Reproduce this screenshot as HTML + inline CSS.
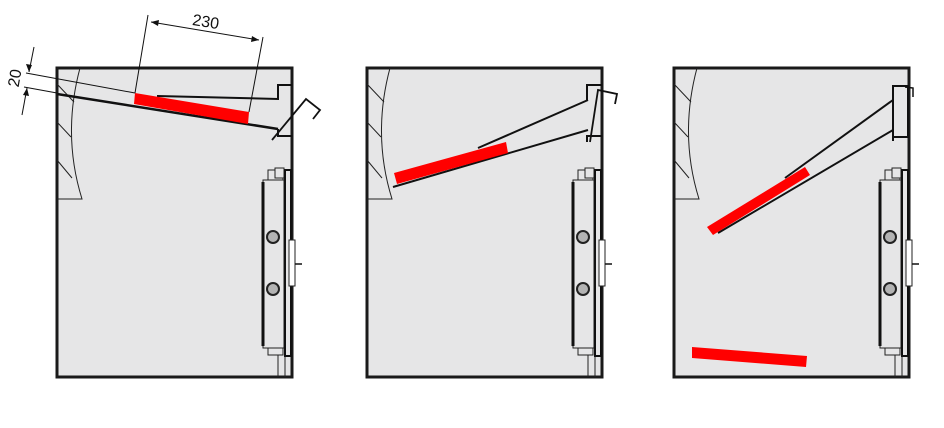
<!DOCTYPE html>
<html><head><meta charset="utf-8"><style>html,body{margin:0;padding:0;background:#fff}svg{display:block}</style></head>
<body>
<svg width="944" height="428" viewBox="0 0 944 428" xmlns="http://www.w3.org/2000/svg" font-family="Liberation Sans, sans-serif">
<defs>
<g id="box">
  <rect x="57" y="68" width="235" height="309" fill="#e6e6e7" stroke="#1a1a1a" stroke-width="3"/>
  <path d="M80,68 Q62,135 82,199 L57,199" fill="none" stroke="#222" stroke-width="1"/>
  <path d="M57,84 L74,102 M57,122 L71,137 M57,160 L72,178" stroke="#222" stroke-width="1"/>
  <!-- device -->
  <line x1="278" y1="352" x2="278" y2="377" stroke="#222" stroke-width="1"/>
  <line x1="285" y1="352" x2="285" y2="377" stroke="#222" stroke-width="1"/>
  <rect x="268" y="170" width="15" height="11" fill="#e6e6e7" stroke="#222" stroke-width="1"/>
  <rect x="275" y="168" width="9" height="10" fill="#e6e6e7" stroke="#222" stroke-width="1"/>
  <rect x="268" y="347" width="15" height="8" fill="#e6e6e7" stroke="#222" stroke-width="1"/>
  <rect x="263" y="180" width="21" height="168" fill="#e6e6e7" stroke="#222" stroke-width="1"/>
  <line x1="263" y1="182" x2="263" y2="346" stroke="#111" stroke-width="3"/>
  <rect x="285" y="170" width="6" height="186" fill="#e6e6e7" stroke="#111" stroke-width="2"/>
  <rect x="289" y="240" width="6" height="46" fill="#fff" stroke="#222" stroke-width="1"/>
  <line x1="295" y1="264" x2="302" y2="264" stroke="#111" stroke-width="1.5"/>
  <circle cx="273" cy="237" r="6" fill="#b3b3b3" stroke="#222" stroke-width="2"/>
  <circle cx="273" cy="289" r="6" fill="#b3b3b3" stroke="#222" stroke-width="2"/>
</g>
</defs>

<!-- Panel 1 -->
<use href="#box"/>
<polyline points="157,96 278,99 278,85 292,85" fill="none" stroke="#111" stroke-width="2"/>
<polyline points="278,129 278,136 292,136" fill="none" stroke="#111" stroke-width="2"/>
<line x1="57" y1="94" x2="278" y2="129" stroke="#111" stroke-width="2.5"/>
<polygon points="135,93 134,104 248,124 249,112" fill="#ff0000"/>
<polyline points="272,140 306,99 320,110 313,119" fill="none" stroke="#111" stroke-width="1.8"/>
<!-- dimensions -->
<line x1="135" y1="93" x2="148" y2="15" stroke="#111" stroke-width="1"/>
<line x1="249" y1="112" x2="263" y2="37" stroke="#111" stroke-width="1"/>
<line x1="151" y1="22" x2="259" y2="40" stroke="#111" stroke-width="1"/>
<polygon points="151,22 159,20 158,26" fill="#111"/>
<polygon points="259,40 251,42 252,36" fill="#111"/>
<text x="205" y="27" font-size="16" text-anchor="middle" transform="rotate(9 205 27)" fill="#111">230</text>
<line x1="26" y1="73" x2="135" y2="93" stroke="#111" stroke-width="1"/>
<line x1="24" y1="87" x2="57" y2="93" stroke="#111" stroke-width="1"/>
<line x1="34" y1="47" x2="29" y2="72" stroke="#111" stroke-width="1"/>
<polygon points="29,72 26,64 32,65" fill="#111"/>
<line x1="22" y1="115" x2="27" y2="88" stroke="#111" stroke-width="1"/>
<polygon points="27,88 29,96 23,95" fill="#111"/>
<text x="20" y="79" font-size="16" text-anchor="middle" transform="rotate(-80 20 79)" fill="#111">20</text>

<!-- Panel 2 -->
<g transform="translate(310,0)"><use href="#box"/></g>
<polyline points="587,100 587,85 602,85" fill="none" stroke="#111" stroke-width="2"/>
<polyline points="587,142 587,136 602,136" fill="none" stroke="#111" stroke-width="2"/>
<line x1="478" y1="148" x2="588" y2="100" stroke="#111" stroke-width="2"/>
<line x1="393" y1="187" x2="588" y2="130" stroke="#111" stroke-width="2"/>
<polygon points="394,173 397,184 508,153 506,142" fill="#ff0000"/>
<polyline points="590,142 598,90 617,94 615,104" fill="none" stroke="#111" stroke-width="1.8"/>

<!-- Panel 3 -->
<g transform="translate(617,0)"><use href="#box"/></g>
<rect x="893" y="86" width="15" height="51" fill="#e6e6e7" stroke="#111" stroke-width="2"/>
<line x1="893" y1="137" x2="893" y2="141" stroke="#111" stroke-width="2"/>
<polyline points="905,87 913,88 913,97" fill="none" stroke="#111" stroke-width="1.5"/>
<line x1="785" y1="178" x2="893" y2="100" stroke="#111" stroke-width="2"/>
<line x1="718" y1="233" x2="893" y2="130" stroke="#111" stroke-width="2"/>
<polygon points="707,227 713,235 810,175 805,167" fill="#ff0000"/>
<polygon points="692,347 692,358 806,367 807,356" fill="#ff0000"/>
</svg>
</body></html>
